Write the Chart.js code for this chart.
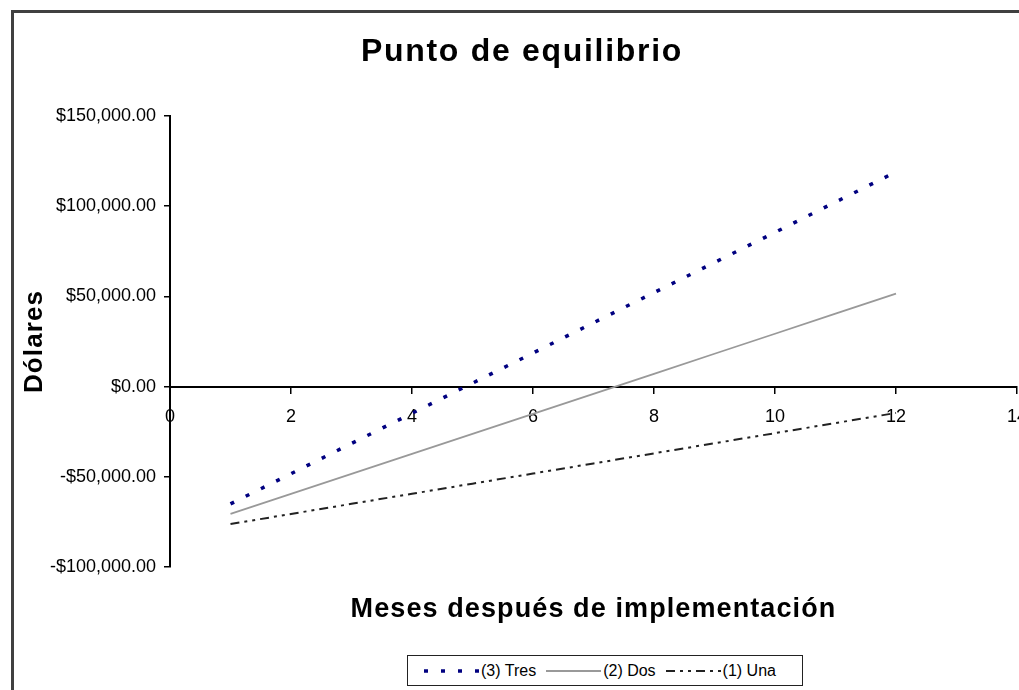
<!DOCTYPE html>
<html>
<head>
<meta charset="utf-8">
<script src="https://cdn.jsdelivr.net/npm/chart.js@4.4.0/dist/chart.umd.min.js"></script>
<style>
  body { margin: 0; background: #fff; }
  #caja { position: relative; width: 1019px; height: 690px; overflow: hidden; }
  #leyenda {
    position: absolute; left: 407px; top: 655px; width: 394px; height: 29px;
    border: 1.5px solid #222; background: #fff;
    display: flex; align-items: center; justify-content: center;
    font-family: 'Liberation Sans', Arial, sans-serif; font-size: 16px; color: #000;
  }
  #leyenda span { margin-right: 10px; }
  #leyenda canvas { margin-right: 2px; }
</style>
</head>
<body>
<div id="caja">
  <canvas id="grafico" width="1019" height="690"></canvas>
  <div id="leyenda"></div>
</div>
<script>
// Datos (meses 1 a 12)
let meses = [1, 2, 3, 4, 5, 6, 7, 8, 9, 10, 11, 12]
let tres = [-65000, -48300, -31500, -14800, 1900, 18600, 35400, 52100, 68800, 85500, 102300, 119000]
let dos = [-70600, -59500, -48400, -37300, -26200, -15100, -4000, 7100, 18200, 29300, 40400, 51500]
let una = [-76200, -70600, -65000, -59400, -53800, -48200, -42600, -37000, -31400, -25800, -20200, -14600]
let etiquetas = ['(3) Tres', '(2) Dos', '(1) Una']

const puntos = (valores) => meses.map((m, i) => ({ x: m, y: valores[i] }))

const fuente = "'Liberation Sans', Arial, sans-serif"

// Dibuja marco y titulos
const textos = {
  id: 'textos',
  afterDraw(chart) {
    const c = chart.ctx
    const area = chart.chartArea
    c.save()
    c.strokeStyle = '#404040'
    c.lineWidth = 3
    c.strokeRect(12.5, 11.5, 1100, 1000)

    c.fillStyle = '#000'
    c.textAlign = 'center'
    c.textBaseline = 'middle'
    c.letterSpacing = '1.7px'
    c.font = 'bold 32px ' + fuente
    c.fillText('Punto de equilibrio', 522, 52)

    c.letterSpacing = '1.1px'
    c.font = 'bold 27px ' + fuente
    c.fillText('Meses después de implementación', (area.left + area.right) / 2, 610)

    c.letterSpacing = '1.1px'
    c.font = 'bold 26px ' + fuente
    c.translate(35, (area.top + area.bottom) / 2)
    c.rotate(-Math.PI / 2)
    c.fillText('Dólares', 0, 0)
    c.restore()
  }
}

let ctx = document.getElementById('grafico')
let grafico = new Chart(ctx, {
  type: 'line',
  data: {
    datasets: [{
      label: etiquetas[0],
      data: puntos(tres),
      borderColor: '#000080',
      borderWidth: 3.5,
      borderDash: [4, 13],
      pointRadius: 0,
      tension: 0
    }, {
      label: etiquetas[1],
      data: puntos(dos),
      borderColor: '#999999',
      borderWidth: 1.8,
      pointRadius: 0,
      tension: 0
    }, {
      label: etiquetas[2],
      data: puntos(una),
      borderColor: '#222222',
      borderWidth: 2,
      borderDash: [9, 5, 3, 5, 3, 5],
      pointRadius: 0,
      tension: 0
    }]
  },
  options: {
    responsive: false,
    animation: false,
    layout: { padding: { left: 12, right: 2, top: 116, bottom: 123 } },
    plugins: {
      legend: { display: false },
      title: { display: false },
      tooltip: { enabled: false }
    },
    scales: {
      x: {
        type: 'linear',
        position: { y: 0 },
        min: 0,
        max: 14,
        afterFit: (escala) => { escala.paddingLeft = 0; escala.paddingRight = 0 },
        ticks: { stepSize: 2, color: '#000', padding: 14, font: { size: 18, family: fuente } },
        grid: { drawOnChartArea: false, tickLength: 6, color: '#000', lineWidth: 1.5 },
        border: { color: '#000', width: 2 }
      },
      y: {
        min: -100000,
        max: 150000,
        afterFit: (escala) => { escala.width = 158 },
        ticks: {
          stepSize: 50000,
          color: '#000',
          padding: 8,
          font: { size: 18, family: fuente },
          callback: (v) => (v < 0 ? '-$' : '$') + Math.abs(v).toLocaleString('en-US', { minimumFractionDigits: 2 })
        },
        grid: { drawOnChartArea: false, tickLength: 6, color: '#000', lineWidth: 1.5 },
        border: { color: '#000', width: 2 }
      }
    }
  },
  plugins: [textos]
})

// Leyenda con muestras de linea
let leyenda = document.getElementById('leyenda')
grafico.data.datasets.forEach(ds => {
  let muestra = document.createElement('canvas')
  muestra.width = 55
  muestra.height = 12
  let m = muestra.getContext('2d')
  m.strokeStyle = ds.borderColor
  m.lineWidth = ds.borderWidth
  m.setLineDash(ds.borderDash || [])
  m.beginPath()
  m.moveTo(0, 6)
  m.lineTo(55, 6)
  m.stroke()
  leyenda.appendChild(muestra)
  let texto = document.createElement('span')
  texto.textContent = ds.label
  leyenda.appendChild(texto)
})
</script>
</body>
</html>
